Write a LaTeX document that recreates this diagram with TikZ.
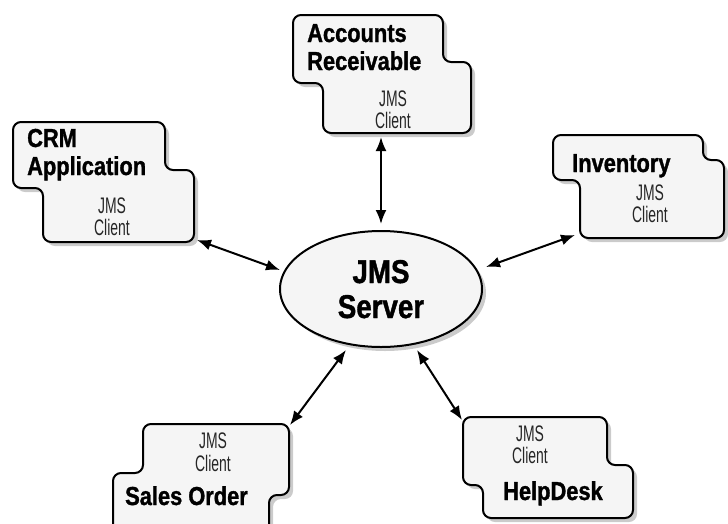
\documentclass[tikz,border=0pt]{standalone}
\usepackage{fontspec}
\usetikzlibrary{shapes.geometric,shadows,arrows.meta}
\newfontfamily\tbfont{Liberation Sans}[FakeStretch=0.84,FakeBold=1.2]
\newfontfamily\trfont{Liberation Sans}[FakeStretch=0.62]
\tikzset{
  clientbox/.style={draw=black, line width=2pt, fill=black!4, rounded corners=8pt,
    drop shadow={shadow xshift=4pt, shadow yshift=-4pt, fill=black!45, opacity=.45}},
  titletext/.style={font=\tbfont\bfseries\fontsize{26}{28}\selectfont, inner sep=0pt, anchor=base west},
  clitext/.style={font=\trfont\fontsize{22.5}{22}\selectfont, text=black!85, inner sep=0pt, anchor=base},
  srvtext/.style={font=\tbfont\bfseries\fontsize{33}{35}\selectfont, inner sep=0pt, anchor=base},
  conn/.style={{Latex[length=14pt,width=11pt]}-{Latex[length=14pt,width=11pt]}, line width=2pt}
}
\begin{document}
\begin{tikzpicture}[x=1pt,y=-1pt]
\useasboundingbox (0,0) rectangle (728,523);
\clip (0,0) rectangle (728,523);
% Accounts Receivable
\path[clientbox] (293,15) -- (443,15) -- (443,62) -- (471,62) -- (471,133) -- (323,133) -- (323,83) -- (293,83) -- cycle;
\node[titletext] (arT1) at (307,42) {Accounts};
\node[titletext] (arT2) at (307,70) {Receivable};
\node[clitext] (arC1) at (393,106) {JMS};
\node[clitext] (arC2) at (393,128) {Client};
% CRM Application
\path[clientbox] (13,122) -- (165,122) -- (165,170) -- (194,170) -- (194,242) -- (43,242) -- (43,188) -- (13,188) -- cycle;
\node[titletext] (crT1) at (27,147) {CRM};
\node[titletext] (crT2) at (27,175) {Application};
\node[clitext] (crC1) at (112,213) {JMS};
\node[clitext] (crC2) at (112,235) {Client};
% Inventory
\path[clientbox] (553,135) -- (703,135) -- (703,160) -- (724,160) -- (724,238) -- (580,238) -- (580,180) -- (553,180) -- cycle;
\node[titletext] (inT1) at (572,172) {Inventory};
\node[clitext] (inC1) at (650,200) {JMS};
\node[clitext] (inC2) at (650,222) {Client};
% Sales Order
\path[clientbox] (143,424) -- (289,424) -- (289,495) -- (269,495) -- (269,545) -- (113,545) -- (113,473) -- (143,473) -- cycle;
\node[clitext] (soC1) at (213,448) {JMS};
\node[clitext] (soC2) at (213,471) {Client};
\node[titletext] (soT1) at (125,505) {Sales Order};
% HelpDesk
\path[clientbox] (463,417) -- (607,417) -- (607,465) -- (633,465) -- (633,518) -- (483,518) -- (483,485) -- (463,485) -- cycle;
\node[clitext] (hdC1) at (530,441) {JMS};
\node[clitext] (hdC2) at (530,463) {Client};
\node[titletext] (hdT1) at (503,500) {HelpDesk};
% JMS Server
\node[ellipse, draw=black, line width=2pt, fill=black!4, minimum width=202pt, minimum height=116pt, inner sep=0pt,
  drop shadow={shadow xshift=4pt, shadow yshift=-4pt, fill=black!45, opacity=.45}] (srv) at (381,289) {};
\node[srvtext] (srvT1) at (381,283) {JMS};
\node[srvtext] (srvT2) at (381,318) {Server};
% connectors
\coordinate (arE) at (381,137);
\coordinate (srvN) at (381,224);
\coordinate (crE) at (197,240);
\coordinate (srvW) at (280,270);
\coordinate (inE) at (575,235);
\coordinate (srvE) at (486,267);
\coordinate (soE) at (290,425);
\coordinate (srvSW) at (346,350);
\coordinate (hdE) at (462,420);
\coordinate (srvSE) at (417,350);
\draw[conn] (arE) -- (srvN);
\draw[conn] (crE) -- (srvW);
\draw[conn] (inE) -- (srvE);
\draw[conn] (srvSW) -- (soE);
\draw[conn] (srvSE) -- (hdE);
\end{tikzpicture}
\end{document}
